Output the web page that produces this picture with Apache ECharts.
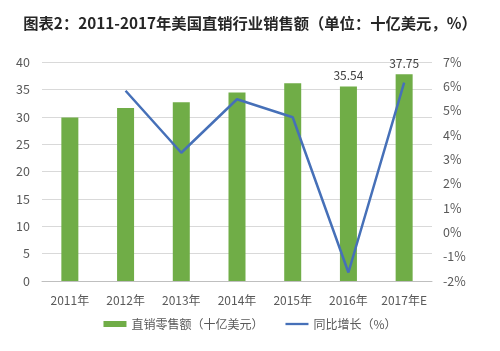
<!DOCTYPE html>
<html><head><meta charset="utf-8">
<script src="https://cdn.jsdelivr.net/npm/echarts@6/dist/echarts.min.js"></script>
<style>html,body{margin:0;padding:0;background:#fff}#c{width:500px;height:351px}</style>
</head><body><div id="c"></div>
<script>
const categories = ['2011年','2012年','2013年','2014年','2015年','2016年','2017年E'];
const salesValues = [29.85, 31.6, 32.65, 34.45, 36.1, 35.54, 37.75];
const growthValues = [null, 5.82, 3.27, 5.47, 4.73, -1.65, 6.15];
const labeledIndices = [5, 6];
const seriesNames = ['直销零售额（十亿美元）', '同比增长（%）'];
const titleText = '图表2：2011-2017年美国直销行业销售额（单位：十亿美元，%）';

const FONT = '"Noto Sans CJK SC", "Noto Sans", sans-serif';
const chart = echarts.init(document.getElementById('c'), null, {renderer:'canvas'});
chart.setOption({
  animation: false,
  backgroundColor: '#fff',
  textStyle: {fontFamily: FONT},
  title: {text: titleText, left: 'center', top: 11,
    textStyle: {fontSize: 15.3, fontWeight: 'bold', color: '#262626', fontFamily: FONT}},
  legend: {bottom: 16, itemGap: 22, itemWidth: 23, itemHeight: 6,
    textStyle: {fontSize: 12, color: '#595959', fontFamily: FONT},
    data: [{name: seriesNames[0], icon: 'rect'}, {name: seriesNames[1], icon: 'path://M0,0 L10,0 L10,1 L0,1 Z'}]},
  grid: {left: 42, right: 68, top: 62, bottom: 70},
  xAxis: {type: 'category', data: categories,
    axisLine: {lineStyle: {color: '#bfbfbf'}}, axisTick: {show: false},
    axisLabel: {interval: 0, color: '#595959', fontSize: 12, margin: 13, fontFamily: FONT}},
  yAxis: [
    {type: 'value', min: 0, max: 40, interval: 5,
     axisLine: {show: false}, axisTick: {show: false},
     axisLabel: {color: '#595959', fontSize: 12.5, margin: 12, fontFamily: FONT},
     splitLine: {lineStyle: {color: '#d9d9d9'}}},
    {type: 'value', min: -2, max: 7, interval: 1,
     axisLine: {show: false}, axisTick: {show: false},
     axisLabel: {color: '#595959', fontSize: 12.5, margin: 11, formatter: '{value}%', fontFamily: FONT},
     splitLine: {show: false}}
  ],
  series: [
    {name: seriesNames[0], type: 'bar', barWidth: 17, yAxisIndex: 0,
     itemStyle: {color: '#70AD47'},
     data: salesValues.map((v, i) => labeledIndices.includes(i)
       ? {value: v, label: {show: true, position: 'top', distance: 5, color: '#404040', fontSize: 12, fontFamily: FONT}}
       : v)},
    {name: seriesNames[1], type: 'line', yAxisIndex: 1, data: growthValues,
     symbol: 'none', lineStyle: {color: '#4670B8', width: 2.5}, itemStyle: {color: '#4670B8'}}
  ]
});
</script></body></html>
